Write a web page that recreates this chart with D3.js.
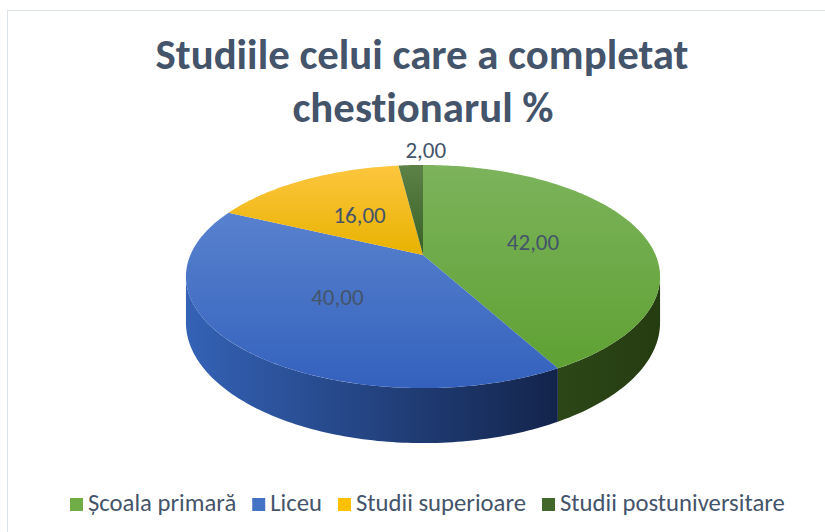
<!DOCTYPE html>
<html>
<head>
<meta charset="utf-8">
<script src="https://cdn.jsdelivr.net/npm/d3@7"></script>
<style>
  html, body { margin: 0; padding: 0; background: #fff; }
  svg { display: block; }
  text { font-variant-ligatures: none; }
</style>
</head>
<body>
<svg id="chart" width="825" height="532"></svg>
<script>
// data
const categories = ['Școala primară', 'Liceu', 'Studii superioare', 'Studii postuniversitare'];
const values = [42, 40, 16, 2];
const topColors = [['#7cb35c', '#5fa133'], ['#5882ce', '#3461bd'], ['#fdc63f', '#e8b200'], ['#5c8247', '#3a6125']];
const sideColors = [['#2d4717', '#253c11'], ['#3462b6', '#13244b']];
const legendColors = ['#70ad47', '#4472c4', '#ffc000', '#43682b'];
const titleLines = ['Studiile celui care a completat', 'chestionarul %'];

const FONT = 'Carlito, Calibri, Lato, sans-serif';
const TEXT = '#44546a';

const svg = d3.select('#chart');
const defs = svg.append('defs');

// chart frame
svg.append('rect').attr('x', 7.5).attr('y', 10.5).attr('width', 830).attr('height', 540)
  .attr('fill', '#fff').attr('stroke', '#dde3ea');

// pie geometry (perspective projection of a tilted disk)
const cx = 423, cy = 255, A = 232.6, B = 107.4, k = 0.193, H = 44.4;
function proj(a, r, depth) {
  const x = r * Math.sin(a), y = -r * Math.cos(a);
  const w = 1 - k * y;
  return [cx + A * x / w, cy + B * y / w + depth * H / w];
}

const pie = d3.pie().sort(null).value(d => d)(values);
const arcPts = (a0, a1, depth) => {
  const n = Math.max(2, Math.ceil((a1 - a0) / (Math.PI / 180)));
  return d3.range(n + 1).map(i => proj(a0 + (a1 - a0) * i / n, 1, depth));
};
const line = d3.line();

// gradients
topColors.forEach((c, i) => {
  const g = defs.append('linearGradient').attr('id', 'top' + i).attr('x1', 0).attr('y1', 0).attr('x2', 0).attr('y2', 1);
  g.append('stop').attr('offset', '0%').attr('stop-color', c[0]);
  g.append('stop').attr('offset', '100%').attr('stop-color', c[1]);
});
sideColors.forEach((c, i) => {
  const g = defs.append('linearGradient').attr('id', 'side' + i).attr('x1', 0).attr('y1', 0).attr('x2', 1).attr('y2', 0);
  g.append('stop').attr('offset', '0%').attr('stop-color', c[0]);
  g.append('stop').attr('offset', '100%').attr('stop-color', c[1]);
});

// visible rim: between the two silhouette angles
const aR = Math.acos(-k), aL = 2 * Math.PI - Math.acos(-k);
const gPie = svg.append('g');
pie.forEach((p, i) => {
  const s = Math.max(p.startAngle, aR), e = Math.min(p.endAngle, aL);
  if (e <= s) return;
  const pts = arcPts(s, e, 0).concat(arcPts(s, e, 1).reverse());
  gPie.append('path').attr('d', line(pts) + 'Z').attr('fill', `url(#side${i})`);
});
pie.forEach((p, i) => {
  const pts = [[cx, cy]].concat(arcPts(p.startAngle, p.endAngle, 0));
  gPie.append('path').attr('d', line(pts) + 'Z').attr('fill', `url(#top${i})`);
});

// data labels
const fmt = v => d3.format('.2f')(v).replace('.', ',');
pie.forEach((p, i) => {
  const mid = (p.startAngle + p.endAngle) / 2;
  const small = p.value < 5;
  const [lx, ly] = small ? proj(mid, 1, 0) : proj(mid, 0.5, 0);
  svg.append('text')
    .attr('x', small ? lx + 15 : lx).attr('y', small ? ly - 7 : ly + 8)
    .attr('text-anchor', 'middle').attr('font-family', FONT).attr('font-size', 23)
    .attr('fill', TEXT).text(fmt(p.value));
});

// title
const title = svg.append('g').attr('font-family', FONT).attr('font-weight', 'bold')
  .attr('fill', TEXT).attr('text-anchor', 'middle');
const t1 = title.append('text').attr('x', 422).attr('y', 69).attr('font-size', 40).text(titleLines[0]);
const fs = 40 * 533 / t1.node().getComputedTextLength();
t1.attr('font-size', fs);
title.append('text').attr('x', 423).attr('y', 122).attr('font-size', fs).text(titleLines[1]);

// legend
const leg = svg.append('g').attr('font-family', FONT).attr('fill', TEXT);
let lfs = 20;
const sq = 13, gap = 5, itemGap = 16;
const texts = categories.map(c => leg.append('text').attr('font-size', lfs).attr('y', 511).text(c));
let tw = texts.map(t => t.node().getComputedTextLength());
const targetSpan = 785 - 70;
const fixed = categories.length * (sq + gap) + (categories.length - 1) * itemGap;
lfs = lfs * (targetSpan - fixed) / d3.sum(tw);
texts.forEach(t => t.attr('font-size', lfs));
tw = texts.map(t => t.node().getComputedTextLength());
let xpos = 70;
categories.forEach((c, i) => {
  leg.append('rect').attr('x', xpos).attr('y', 498).attr('width', sq).attr('height', sq)
    .attr('fill', legendColors[i]);
  texts[i].attr('x', xpos + sq + gap);
  xpos += sq + gap + tw[i] + itemGap;
});
</script>
</body>
</html>
